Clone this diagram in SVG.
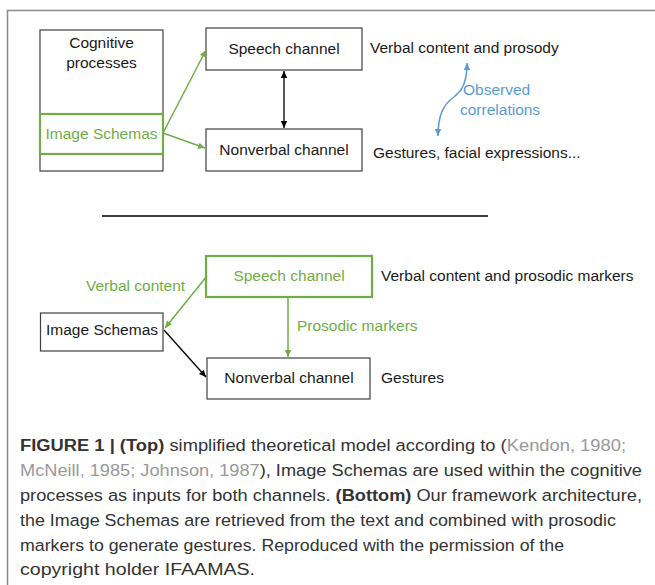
<svg xmlns="http://www.w3.org/2000/svg" width="655" height="585" viewBox="0 0 655 585">
<style>
.box{fill:#fff;stroke:#404040;stroke-width:1.2}
.gbox{fill:none;stroke:#70ad47;stroke-width:2.2}
.t{font-family:"Liberation Sans",Arial,sans-serif;font-size:15.5px;fill:#1a1a1a}
.g{fill:#70ad47}
.b{fill:#5b9bd5}
.c{text-anchor:middle}
.cap{font-family:"Liberation Sans",Arial,sans-serif;font-size:17.4px;fill:#333}
.gray{fill:#999}
.bold{font-weight:bold}
.gl{stroke:#70ad47;stroke-width:1.5;fill:none}
.kl{stroke:#000;stroke-width:1.3;fill:none}
.bl{stroke:#5b9bd5;stroke-width:1.5;fill:none}
</style>
<defs>
<marker id="ag" markerWidth="8" markerHeight="8" refX="7" refY="4" orient="auto" markerUnits="userSpaceOnUse"><path d="M0,0.8 L7,4 L0,7.2 Z" fill="#70ad47"/></marker>
<marker id="ak" markerWidth="8" markerHeight="8" refX="7" refY="4" orient="auto-start-reverse" markerUnits="userSpaceOnUse"><path d="M0,0.8 L7,4 L0,7.2 Z" fill="#000"/></marker>
<marker id="ab" markerWidth="8" markerHeight="8" refX="7" refY="4" orient="auto-start-reverse" markerUnits="userSpaceOnUse"><path d="M0,0.8 L7,4 L0,7.2 Z" fill="#5b9bd5"/></marker>
</defs>
<rect x="7.5" y="10.5" width="700" height="620" fill="none" stroke="#8a8a8a" stroke-width="1.5"/>

<g id="cognitive">
<rect class="box" x="40" y="30" width="123" height="141"/>
<text class="t c" x="101.5" y="48">Cognitive</text>
<text class="t c" x="101.5" y="68">processes</text>
</g>
<g id="image-schemas-top">
<rect class="gbox" x="40" y="114" width="123" height="40"/>
<text class="t c g" x="101.5" y="139">Image Schemas</text>
</g>
<g id="speech-top">
<rect class="box" x="206" y="28" width="156" height="42"/>
<text class="t c" x="284" y="54">Speech channel</text>
</g>
<g id="nonverbal-top">
<rect class="box" x="206" y="129" width="156" height="42"/>
<text class="t c" x="284" y="155">Nonverbal channel</text>
</g>
<g id="labels-top">
<text class="t" x="370" y="53">Verbal content and prosody</text>
<text class="t" x="373" y="158">Gestures, facial expressions...</text>
<text class="t b" x="463" y="95">Observed</text>
<text class="t b" x="460" y="115">correlations</text>
</g>

<line x1="102" y1="216" x2="488" y2="216" stroke="#000" stroke-width="1.5"/>

<g id="speech-bottom">
<rect class="gbox" x="206" y="256" width="166" height="41" stroke-width="2.5"/>
<text class="t c g" x="289" y="281">Speech channel</text>
</g>
<g id="image-schemas-bottom">
<rect class="box" x="40.5" y="313" width="122.5" height="38"/>
<text class="t c" x="102" y="335">Image Schemas</text>
</g>
<g id="nonverbal-bottom">
<rect class="box" x="207" y="358" width="163" height="41"/>
<text class="t c" x="289" y="383">Nonverbal channel</text>
</g>
<g id="labels-bottom">
<text class="t" x="381" y="281">Verbal content and prosodic markers</text>
<text class="t" x="381" y="383">Gestures</text>
<text class="t g" x="86" y="291">Verbal content</text>
<text class="t g" x="297" y="331">Prosodic markers</text>
</g>

<g id="connectors">
<line class="gl" x1="163" y1="133" x2="206" y2="50" marker-end="url(#ag)"/>
<line class="gl" x1="163" y1="133" x2="205" y2="148" marker-end="url(#ag)"/>
<line class="kl" x1="284" y1="71" x2="284" y2="128" marker-start="url(#ak)" marker-end="url(#ak)"/>
<path class="bl" d="M467,63 C467,86 460,92 454,97 C444,104 438,114 438,136" marker-start="url(#ab)" marker-end="url(#ab)"/>
<line class="gl" x1="207" y1="276" x2="165" y2="328" marker-end="url(#ag)"/>
<line class="gl" x1="288" y1="297" x2="288" y2="357" marker-end="url(#ag)"/>
<line class="kl" x1="164" y1="330" x2="206" y2="377" marker-end="url(#ak)"/>
</g>

<g id="caption">
<text class="cap" x="20" y="451" textLength="606" lengthAdjust="spacingAndGlyphs"><tspan class="bold">FIGURE 1 | (Top)</tspan> simplified theoretical model according to (<tspan class="gray">Kendon, 1980;</tspan></text>
<text class="cap" x="20" y="476" textLength="622" lengthAdjust="spacingAndGlyphs"><tspan class="gray">McNeill, 1985; Johnson, 1987</tspan>), Image Schemas are used within the cognitive</text>
<text class="cap" x="20" y="501" textLength="622" lengthAdjust="spacingAndGlyphs">processes as inputs for both channels. <tspan class="bold">(Bottom)</tspan> Our framework architecture,</text>
<text class="cap" x="20" y="526" textLength="596" lengthAdjust="spacingAndGlyphs">the Image Schemas are retrieved from the text and combined with prosodic</text>
<text class="cap" x="20" y="551" textLength="544" lengthAdjust="spacingAndGlyphs">markers to generate gestures. Reproduced with the permission of the</text>
<text class="cap" x="20" y="575" textLength="235" lengthAdjust="spacingAndGlyphs">copyright holder IFAAMAS.</text>
</g>
</svg>
